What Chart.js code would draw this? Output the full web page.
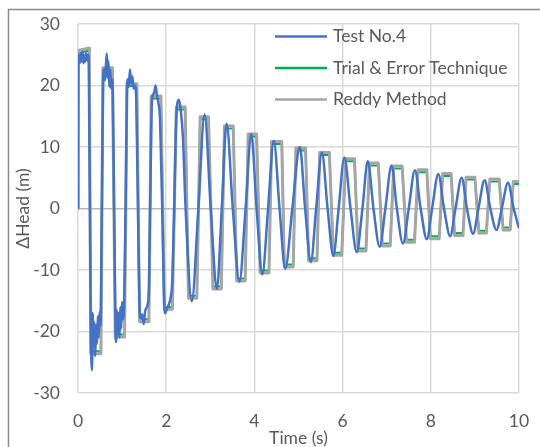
<!DOCTYPE html>
<html>
<head>
<meta charset="utf-8">
<script src="https://cdn.jsdelivr.net/npm/chart.js@4.4.1/dist/chart.umd.min.js"></script>
<style>
  html, body { margin: 0; padding: 0; background: #fff; }
  #wrap { position: relative; width: 540px; height: 447px; }
</style>
</head>
<body>
<div id="wrap"><canvas id="chart" width="540" height="447"></canvas></div>
<script>
const seriesNames = ['Test No.4', 'Trial & Error Technique', 'Reddy Method'];
const xTicks = [0, 2, 4, 6, 8, 10];
const yTicks = [-30, -20, -10, 0, 10, 20, 30];

// measured test record (blue)
const testTime = [0, 0.008, 0.025, 0.045, 0.065, 0.085, 0.105, 0.125, 0.145, 0.165, 0.185, 0.205, 0.225, 0.245,
  0.29, 0.305, 0.318, 0.332, 0.35, 0.37, 0.39, 0.41, 0.43, 0.45, 0.47, 0.49, 0.51,
  0.54, 0.57, 0.59, 0.61, 0.635, 0.655, 0.67, 0.69, 0.71, 0.73, 0.75, 0.77, 0.79,
  0.82, 0.85, 0.865, 0.88, 0.90, 0.92, 0.94, 0.96, 0.98, 1.00, 1.02, 1.045,
  1.08, 1.11, 1.13, 1.15, 1.18, 1.20, 1.23, 1.26, 1.29, 1.32,
  1.36, 1.395, 1.42, 1.45, 1.49, 1.52, 1.55, 1.58, 1.61,
  1.635, 1.67, 1.70, 1.73, 1.76, 1.79, 1.82, 1.86,
  1.91, 1.95, 1.98, 2.02, 2.06, 2.10, 2.14,
  2.18, 2.23, 2.29, 2.33, 2.38,
  2.44, 2.58, 2.73, 2.87, 3.01, 3.15, 3.26, 3.37, 3.51, 3.66, 3.80, 3.93, 4.05, 4.18, 4.31, 4.44,
  4.57, 4.70, 4.86, 5.03, 5.15, 5.28, 5.40, 5.53, 5.66, 5.79, 5.91, 6.04, 6.18, 6.32, 6.45, 6.57,
  6.70, 6.84, 6.97, 7.11, 7.23, 7.37, 7.50, 7.64, 7.77, 7.91, 8.03, 8.17, 8.30, 8.44, 8.56, 8.70,
  8.82, 8.96, 9.08, 9.22, 9.35, 9.49, 9.61, 9.75, 9.88, 10.0];
const testHead = [0, 23.4, 25.0, 23.7, 25.2, 23.9, 25.5, 23.6, 24.9, 23.9, 25.3, 24.1, 25.0, 23.2,
  -20.5, -25.0, -26.3, -17.0, -22.5, -18.5, -24.0, -19.0, -22.0, -17.5, -21.0, -16.8, -19.0,
  0, 21.0, 22.6, 20.8, 23.5, 25.2, 21.2, 24.0, 19.8, 22.6, 19.5, 21.0, 18.5,
  0, -19.5, -21.7, -16.5, -20.5, -17.0, -21.0, -16.0, -19.5, -15.2, -18.0, -15.5,
  0, 19.0, 21.0, 19.8, 22.6, 20.4, 21.5, 19.5, 20.0, 17.8,
  0, -16.0, -17.8, -17.2, -18.8, -16.8, -16.2, -15.6, -12.5,
  0, 16.5, 18.5, 18.9, 20.0, 18.3, 17.3, 14.5,
  0, -14.5, -17.0, -16.2, -15.6, -14.5, -11.5,
  0, 15.0, 17.7, 16.0, 11.5,
  0, -15.1, 0, 15.3, 0, -13.1, 0, 13.8, 0, -11.9, 0, 12.1, 0, -10.7, 0, 11.0,
  0, -9.8, 0, 10.0, 0, -8.7, 0, 9.1, 0, -7.7, 0, 8.3, 0, -7.1, 0, 7.7,
  0, -6.2, 0, 7.0, 0, -5.7, 0, 6.2, 0, -5.0, 0, 5.6, 0, -4.5, 0, 5.0,
  0, -4.1, 0, 4.6, 0, -3.5, 0, 4.2, 0, -3.2];

// corner points of the two computed square waves
const squareTime = [0, 0.005, 0.256, 0.29, 0.52, 0.566, 0.78, 0.845, 1.056, 1.11, 1.335, 1.395, 1.608,
  1.66, 1.88, 1.96, 2.14, 2.23, 2.43, 2.505, 2.695, 2.77, 2.96, 3.06, 3.25, 3.32, 3.52, 3.6, 3.79,
  3.86, 4.05, 4.13, 4.33, 4.39, 4.62, 4.68, 4.88, 4.94, 5.16, 5.23, 5.42, 5.48, 5.70, 5.79, 5.98,
  6.07, 6.27, 6.35, 6.53, 6.61, 6.81, 6.90, 7.08, 7.16, 7.35, 7.45, 7.63, 7.71, 7.91, 7.99, 8.19,
  8.27, 8.46, 8.54, 8.73, 8.80, 9.0, 9.09, 9.26, 9.34, 9.55, 9.64, 9.80, 9.87, 10];
const reddyHead = [0, 25.7, 26.1, -23.6, -23.6, 22.9, 22.9, -20.9, -20.9, 20.3, 20.3, -18.4, -18.4,
  18.3, 18.3, -16.4, -16.4, 16.5, 16.5, -14.6, -14.6, 14.9, 14.9, -13.1, -13.1, 13.4, 13.4, -11.8, -11.8,
  12.1, 12.1, -10.5, -10.5, 10.9, 10.9, -9.5, -9.5, 9.85, 9.85, -8.5, -8.5, 9.1, 9.1, -7.6, -7.6,
  8.1, 8.1, -6.9, -6.9, 7.4, 7.4, -6.1, -6.1, 6.9, 6.9, -5.5, -5.5, 6.3, 6.3, -4.9, -4.9,
  5.7, 5.7, -4.4, -4.4, 5.1, 5.1, -4.0, -4.0, 4.8, 4.8, -3.5, -3.5, 4.4, 4.4];
const trialHead = [0, 25.3, 25.7, -23.2, -23.2, 22.5, 22.5, -20.5, -20.5, 19.9, 19.9, -18.0, -18.0,
  17.9, 17.9, -16.0, -16.0, 16.1, 16.1, -14.2, -14.2, 14.5, 14.5, -12.7, -12.7, 13.0, 13.0, -11.4, -11.4,
  11.7, 11.7, -10.1, -10.1, 10.5, 10.5, -9.1, -9.1, 9.45, 9.45, -8.1, -8.1, 8.7, 8.7, -7.2, -7.2,
  7.7, 7.7, -6.5, -6.5, 7.0, 7.0, -5.7, -5.7, 6.5, 6.5, -5.1, -5.1, 5.9, 5.9, -4.5, -4.5,
  5.3, 5.3, -4.0, -4.0, 4.7, 4.7, -3.6, -3.6, 4.4, 4.4, -3.1, -3.1, 4.0, 4.0];

const FONT = 'Lato, "Liberation Sans", sans-serif';
const FONT_SIZE = 17.5;
const TEXT = '#595959';

function toPoints(xs, ys) {
  return xs.map((x, i) => ({ x: x, y: ys[i] }));
}

// outer frame of the chart object (cropped on the right and bottom)
const frame = {
  id: 'frame',
  beforeDraw(chart) {
    const c = chart.ctx;
    c.save();
    c.fillStyle = '#fff';
    c.fillRect(0, 0, chart.width, chart.height);
    c.strokeStyle = '#8c8c8c';
    c.lineWidth = 1.5;
    c.beginPath();
    c.moveTo(8.5, chart.height);
    c.lineTo(8.5, 9.5);
    c.lineTo(chart.width, 9.5);
    c.stroke();
    c.restore();
  }
};

// legend sits inside the plot, upper right
const legendBox = {
  id: 'legendBox',
  afterDraw(chart) {
    const c = chart.ctx;
    c.save();
    chart.data.datasets.forEach((ds, i) => {
      const y = 36.5 + i * 31.5;
      c.strokeStyle = ds.borderColor;
      c.lineWidth = 2.5;
      c.beginPath();
      c.moveTo(275, y);
      c.lineTo(327, y);
      c.stroke();
      c.fillStyle = TEXT;
      c.font = FONT_SIZE + 'px ' + FONT;
      c.textBaseline = 'middle';
      c.fillText(ds.label, 333, y);
    });
    c.restore();
  }
};

const ctx = document.getElementById('chart').getContext('2d');
const chart = new Chart(ctx, {
  type: 'line',
  data: {
    datasets: [{
      label: seriesNames[0],
      data: toPoints(testTime, testHead),
      borderColor: '#4472c4',
      borderWidth: 2.5,
      pointRadius: 0,
      cubicInterpolationMode: 'monotone',
      order: 1
    }, {
      label: seriesNames[1],
      data: toPoints(squareTime, trialHead),
      borderColor: '#00b050',
      borderWidth: 2,
      pointRadius: 0,
      tension: 0,
      order: 3
    }, {
      label: seriesNames[2],
      data: toPoints(squareTime, reddyHead),
      borderColor: '#a5a5a5',
      borderWidth: 3,
      borderJoinStyle: 'round',
      pointRadius: 0,
      tension: 0,
      order: 2
    }]
  },
  options: {
    responsive: false,
    animation: false,
    layout: { padding: { left: 8, top: 24, right: 21, bottom: 0 } },
    plugins: {
      legend: { display: false },
      tooltip: { enabled: false }
    },
    scales: {
      x: {
        type: 'linear',
        min: xTicks[0],
        max: xTicks[xTicks.length - 1],
        afterBuildTicks: s => { s.ticks = xTicks.map(v => ({ value: v })); },
        afterFit: s => { s.height = 54; },
        grid: { color: '#d9d9d9', lineWidth: 1.5, drawTicks: true, tickLength: 16, tickColor: 'rgba(0,0,0,0)' },
        border: { display: false },
        ticks: { color: TEXT, font: { family: FONT, size: FONT_SIZE }, padding: 2 },
        title: { display: true, text: 'Time (s)', color: TEXT, font: { family: FONT, size: FONT_SIZE, lineHeight: 1 }, padding: 0 }
      },
      y: {
        min: yTicks[0],
        max: yTicks[yTicks.length - 1],
        afterBuildTicks: s => { s.ticks = yTicks.map(v => ({ value: v })); },
        afterFit: s => { s.width = 70; },
        grid: {
          color: c => c.tick && c.tick.value === 0 ? '#b8b8b8' : '#d9d9d9',
          lineWidth: 1.5,
          drawTicks: true,
          tickLength: 16,
          tickColor: 'rgba(0,0,0,0)'
        },
        border: { display: false },
        ticks: { color: TEXT, font: { family: FONT, size: FONT_SIZE }, padding: 2 },
        title: { display: true, text: 'ΔHead (m)', color: TEXT, font: { family: FONT, size: FONT_SIZE, lineHeight: 1 }, padding: { top: 7, bottom: 0 } }
      }
    }
  },
  plugins: [frame, legendBox]
});
</script>
</body>
</html>
